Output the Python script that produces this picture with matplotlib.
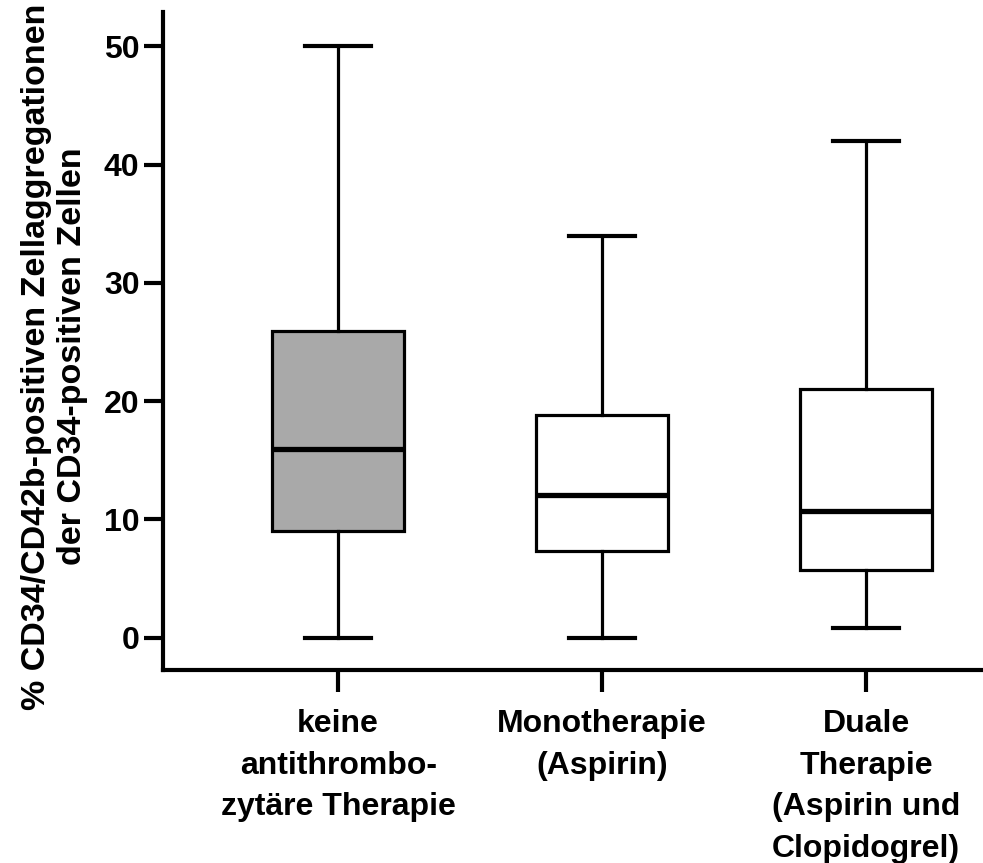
import matplotlib
matplotlib.use("Agg")
import matplotlib.pyplot as plt

plt.rcParams["font.family"] = ["Liberation Sans", "DejaVu Sans"]
plt.rcParams["font.weight"] = "bold"

groups = ["keine\nantithrombo-\nzytäre Therapie",
          "Monotherapie\n(Aspirin)",
          "Duale\nTherapie\n(Aspirin und\nClopidogrel)"]
whis_low = [0.0, 0.0, 0.8]
q1 = [9.0, 7.3, 5.7]
median = [16.0, 12.1, 10.7]
q3 = [25.9, 18.8, 21.0]
whis_high = [50.0, 34.0, 42.0]
fills = ["#a9a9a9", "white", "white"]

stats = []
for i in range(len(groups)):
    stats.append({"whislo": whis_low[i], "q1": q1[i], "med": median[i],
                  "q3": q3[i], "whishi": whis_high[i], "fliers": []})

fig = plt.figure(figsize=(9.83, 8.63), dpi=100)
ax = fig.add_axes([0.166, 0.224, 0.834, 0.762])

bp = ax.bxp(stats, positions=[1, 2, 3], widths=0.5, patch_artist=True,
            showfliers=False,
            boxprops=dict(linewidth=2.3, edgecolor="black"),
            whiskerprops=dict(linewidth=2.3, color="black"),
            capprops=dict(linewidth=3, color="black"),
            medianprops=dict(linewidth=3.8, color="black"),
            capwidths=0.25)
for patch, c in zip(bp["boxes"], fills):
    patch.set_facecolor(c)

ax.set_xlim(0.337, 3.443)
ax.set_ylim(-2.7, 52.9)
ax.set_yticks([0, 10, 20, 30, 40, 50])
ax.set_xticks([1, 2, 3])
ax.set_xticklabels(groups, fontsize=23, fontweight="bold", linespacing=1.52)
ax.tick_params(axis="y", labelsize=23, width=3, length=14, pad=3)
ax.tick_params(axis="x", width=3, length=16, pad=12)
for lab in ax.get_yticklabels():
    lab.set_fontweight("bold")

for side in ["top", "right"]:
    ax.spines[side].set_visible(False)
for side in ["left", "bottom"]:
    ax.spines[side].set_linewidth(3)

ax.set_ylabel("% CD34/CD42b-positiven Zellaggregationen\nder CD34-positiven Zellen",
              fontsize=24.5, fontweight="bold", linespacing=1.2)
ax.yaxis.set_label_coords(-0.092, 0.476)

fig.savefig("out.png", dpi=100)
